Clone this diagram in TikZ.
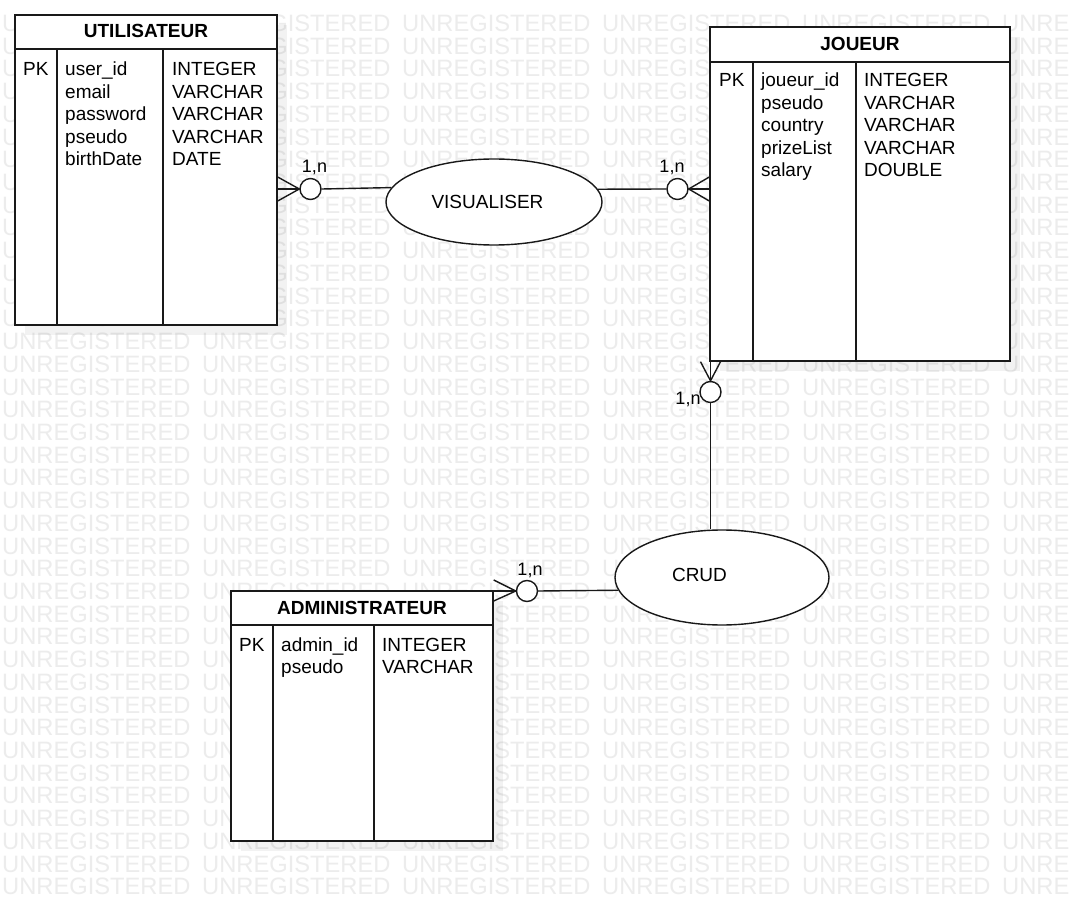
\documentclass[tikz,border=0pt]{standalone}
\usepackage{fontspec}
\setmainfont{Liberation Sans}
\usetikzlibrary{positioning,shapes.geometric,shadows}
\definecolor{MyMark}{rgb}{0.925,0.925,0.925}
\definecolor{MyLine}{rgb}{0.1,0.1,0.1}
\tikzset{
    entity/.style={
      rectangle,
      draw=MyLine,
      line width=1.4pt,
      fill=white,
      inner sep=0pt,
      drop shadow={shadow xshift=10pt, shadow yshift=-10pt, fill=black, opacity=0.05}
    },
    relation/.style={ellipse, draw=MyLine, line width=1.4pt, fill=white, inner sep=0pt},
    card/.style={circle, draw=MyLine, line width=1.4pt, fill=white, minimum size=21pt, inner sep=0pt},
    link/.style={draw=MyLine, line width=1.4pt},
    cell/.style={anchor=base west, inner sep=0pt, font=\fontsize{19}{22}\selectfont},
    title/.style={anchor=base, inner sep=0pt, font=\fontsize{19}{22}\selectfont\bfseries},
    rlabel/.style={anchor=base, inner sep=0pt, font=\fontsize{19}{22}\selectfont},
    mult/.style={anchor=base, inner sep=0pt, font=\fontsize{18}{20}\selectfont},
    wmark/.style={anchor=base west, inner sep=0pt, text=MyMark, font=\fontsize{23.7}{24}\selectfont},
}

\begin{document}
\begin{tikzpicture}[x=1pt,y=-1pt]
    \useasboundingbox[fill=white] (0,0) rectangle (1069,901);

    % watermark (words hidden behind JOUEUR are left out)
    \begin{scope}
      \clip (0,0) rectangle (1069,901);
      \foreach \r in {0,...,38}
        \foreach \c in {0,...,5} {
          \pgfmathtruncatemacro\hidden{(\c==4) && (\r>=1) && (\r<=14)}
          \ifnum\hidden=0
            \node[wmark] (wm-\r-\c) at (2+200*\c, 31.5+22.72*\r) {UNREGISTERED};
          \fi
        }
    \end{scope}

    % UTILISATEUR
    \node[entity, minimum width=262pt, minimum height=310pt] (util) at (146,170) {};
    \draw[link] (15,49) -- (277,49);
    \draw[link] (57,49) -- (57,325);
    \draw[link] (163,49) -- (163,325);
    \node[title] (util-title) at (146,38) {UTILISATEUR};
    \node[cell] (util-pk) at (23,76) {PK};
    \foreach \f/\t [count=\i from 0] in {user\_id/INTEGER, email/VARCHAR, password/VARCHAR, pseudo/VARCHAR, birthDate/DATE} {
      \node[cell] (util-f\i) at (65,76+22.5*\i) {\f};
      \node[cell] (util-t\i) at (172,76+22.5*\i) {\t};
    }

    % JOUEUR
    \node[entity, minimum width=300pt, minimum height=334pt] (joueur) at (860,194) {};
    \draw[link] (710,62) -- (1010,62);
    \draw[link] (753,62) -- (753,361);
    \draw[link] (856,62) -- (856,361);
    \node[title] (joueur-title) at (860,50.5) {JOUEUR};
    \node[cell] (joueur-pk) at (719,86.7) {PK};
    \foreach \f/\t [count=\i from 0] in {joueur\_id/INTEGER, pseudo/VARCHAR, country/VARCHAR, prizeList/VARCHAR, salary/DOUBLE} {
      \node[cell] (joueur-f\i) at (761,86.7+22.5*\i) {\f};
      \node[cell] (joueur-t\i) at (864,86.7+22.5*\i) {\t};
    }

    % ADMINISTRATEUR
    \node[entity, minimum width=262pt, minimum height=250pt] (admin) at (362,716) {};
    \draw[link] (231,625) -- (493,625);
    \draw[link] (273,625) -- (273,841);
    \draw[link] (374,625) -- (374,841);
    \node[title] (admin-title) at (362,614) {ADMINISTRATEUR};
    \node[cell] (admin-pk) at (239,651) {PK};
    \foreach \f/\t [count=\i from 0] in {admin\_id/INTEGER, pseudo/VARCHAR} {
      \node[cell] (admin-f\i) at (281,651+22.5*\i) {\f};
      \node[cell] (admin-t\i) at (382,651+22.5*\i) {\t};
    }

    % relations
    \node[relation, minimum width=216pt, minimum height=86pt] (vis) at (494,202) {};
    \node[rlabel] (vis-label) at (487.5,209) {VISUALISER};
    \node[relation, minimum width=214pt, minimum height=95pt] (crud) at (722,577.5) {};
    \node[rlabel] (crud-label) at (699.5,581.5) {CRUD};

    % cardinalities
    \node[card] (util-card) at (310.5,189) {};
    \node[card] (joueur-card) at (677.5,189) {};
    \node[card] (joueur-card2) at (710.5,392) {};
    \node[card] (admin-card) at (527,591) {};

    \node[mult] (util-mult) at (314.5,173) {1,n};
    \node[mult] (joueur-mult) at (672,173) {1,n};
    \node[mult] (joueur-mult2) at (688,405) {1,n};
    \node[mult] (admin-mult) at (530,575) {1,n};

    % VISUALISER links
    \coordinate (util-port) at (util.east |- util-card);
    \draw[link] (util-port) -- (util-card.west);
    \draw[link] ([yshift=12pt]util-port) -- (util-card.west) -- ([yshift=-12pt]util-port);
    \draw[link] (util-card.east) -- (vis.172.8);

    \coordinate (joueur-port) at (joueur.west |- joueur-card);
    \draw[link] (joueur-port) -- (joueur-card.east);
    \draw[link] ([yshift=12pt]joueur-port) -- (joueur-card.east) -- ([yshift=-12pt]joueur-port);
    \draw[link] (vis.7.2) -- (joueur-card.west);

    % CRUD links
    \coordinate (joueur-foot) at (joueur-card2 |- joueur.south);
    \draw[link] (joueur-foot) -- (joueur-card2.north);
    \draw[link] ([xshift=-10pt]joueur-foot) -- (joueur-card2.north) -- ([xshift=10pt]joueur-foot);
    \draw[link] (joueur-card2.south) -- (joueur-card2 |- crud.north);

    \coordinate (admin-port) at (admin.east |- admin-card);
    \draw[link] (admin-port) -- (admin-card.west);
    \draw[link] ([yshift=11pt]admin-port) -- (admin-card.west) -- ([yshift=-10pt]admin-port);
    \draw[link] (admin-card.east) -- (crud.187.8);

\end{tikzpicture}
\end{document}
